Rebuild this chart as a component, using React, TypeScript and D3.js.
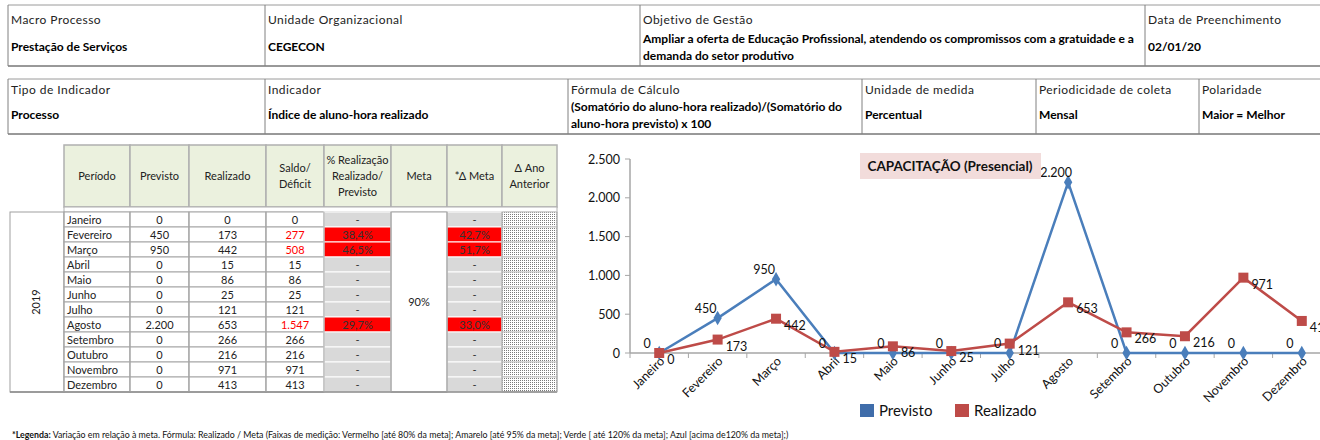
import React from 'react';
import * as d3 from 'd3';

// ---- data ----
const months = ['Janeiro', 'Fevereiro', 'Março', 'Abril', 'Maio', 'Junho', 'Julho', 'Agosto', 'Setembro', 'Outubro', 'Novembro', 'Dezembro'];
const previsto = [0, 450, 950, 0, 0, 0, 0, 2200, 0, 0, 0, 0];
const realizado = [0, 173, 442, 15, 86, 25, 121, 653, 266, 216, 971, 413];
const saldo = [0, 277, 508, 15, 86, 25, 121, 1547, 266, 216, 971, 413];
const pctRealizacao: (number | null)[] = [null, 38.4, 46.5, null, null, null, null, 29.7, null, null, null, null];
const deltaMeta: (number | null)[] = [null, 42.7, 51.7, null, null, null, null, 33.0, null, null, null, null];
const metaLabel = '90%';
const anoLabel = '2019';
const yTicks = [0, 500, 1000, 1500, 2000, 2500];

const infoRow1 = [
  { label: 'Macro Processo', value: ['Prestação de Serviços'] },
  { label: 'Unidade Organizacional', value: ['CEGECON'] },
  { label: 'Objetivo de Gestão', value: ['Ampliar a oferta de Educação Profissional, atendendo os compromissos com a gratuidade e a', 'demanda do setor produtivo'] },
  { label: 'Data de Preenchimento', value: ['02/01/20'] },
];
const infoRow2 = [
  { label: 'Tipo de Indicador', value: ['Processo'] },
  { label: 'Indicador', value: ['Índice de aluno-hora realizado'] },
  { label: 'Fórmula  de Cálculo', value: ['(Somatório do aluno-hora realizado)/(Somatório do', 'aluno-hora previsto) x 100'] },
  { label: 'Unidade de medida', value: ['Percentual'] },
  { label: 'Periodicidade de coleta', value: ['Mensal'] },
  { label: 'Polaridade', value: ['Maior = Melhor'] },
];
const tableHeaders = [['Período'], ['Previsto'], ['Realizado'], ['Saldo/', 'Déficit'], ['% Realização', 'Realizado/', 'Previsto'], ['Meta'], ['*Δ Meta'], ['Δ Ano', 'Anterior']];
const chartTitle = 'CAPACITAÇÃO (Presencial)';
const seriesNames = ['Previsto', 'Realizado'];
const footnoteBold = '*Legenda:';
const footnoteText = ' Variação em relação à meta. Fórmula: Realizado / Meta (Faixas de medição: Vermelho [até 80% da meta]; Amarelo [até 95% da meta]; Verde [ até 120% da meta]; Azul [acima de120% da meta];)';

// ---- layout ----
const FONT = "Lato, 'Liberation Sans', sans-serif";
const row1Edges = [8, 265, 640, 1145, 1330];
const row2Edges = [8, 265, 568, 862, 1036, 1199, 1330];
const colEdges = [64, 130, 189, 266, 324, 391, 447, 502, 557];
const BLUE = '#4A7EBB';
const RED = '#BE4B48';

const ptBR = d3.formatLocale({ decimal: ',', thousands: '.', grouping: [3], currency: ['R$', ''] });
const fmtInt = ptBR.format(',.0f');
const fmtPct = (v: number) => ptBR.format('.1f')(v) + '%';

function InfoTable({ rows, edges, y0, y1, labelY, valueY }: any) {
  return (
    <g fontFamily={FONT}>
      <line x1={edges[0]} x2={edges[edges.length - 1]} y1={y0} y2={y0} stroke="#9a9a9a" />
      <line x1={edges[0]} x2={edges[edges.length - 1]} y1={y1} y2={y1} stroke="#333" />
      {edges.slice(0, -1).map((e: number) => (
        <line key={e} x1={e} x2={e} y1={y0} y2={y1} stroke="#808080" />
      ))}
      {rows.map((c: any, i: number) => (
        <g key={c.label}>
          <text x={edges[i] + 3} y={labelY} fontSize={12} letterSpacing={0.45} fill="#222">{c.label}</text>
          {c.value.map((v: string, j: number) => (
            <text key={j} x={edges[i] + 3} fontWeight="bold" fontSize={12} fill="#000"
              y={c.value.length === 1 ? valueY : valueY - 8 + j * 17}>{v}</text>
          ))}
        </g>
      ))}
    </g>
  );
}

function DataTable() {
  const hy0 = 145, hy1 = 207, by0 = 212, rh = 15;
  const by1 = by0 + rh * months.length;
  const mid = (i: number) => (colEdges[i] + colEdges[i + 1]) / 2;
  return (
    <g fontFamily={FONT} fontSize={11}>
      <defs>
        <pattern id="dots" width="2" height="2" patternUnits="userSpaceOnUse">
          <rect width="2" height="2" fill="#fff" />
          <rect width="1" height="1" fill="#7a7a7a" />
        </pattern>
      </defs>
      {tableHeaders.map((lines, i) => (
        <g key={i}>
          <rect x={colEdges[i]} y={hy0} width={colEdges[i + 1] - colEdges[i]} height={hy1 - hy0}
            fill="#EBF1DE" stroke="#B0B0B0" strokeWidth={1.5} />
          {lines.map((t, j) => (
            <text key={j} x={mid(i)} textAnchor="middle" fill="#222"
              y={(hy0 + hy1) / 2 - (lines.length - 1) * 8 + j * 16 + 4}>{t}</text>
          ))}
        </g>
      ))}
      <rect x={colEdges[0]} y={hy1} width={colEdges[8] - colEdges[0]} height={by0 - hy1} fill="#fff" stroke="#B0B0B0" />
      <rect x={10} y={by0} width={colEdges[0] - 10} height={by1 - by0} fill="#fff" stroke="#A0A0A0" />
      <text transform={`translate(40,${(by0 + by1) / 2}) rotate(-90)`} textAnchor="middle" fill="#222">{anoLabel}</text>
      {months.map((m, i) => {
        const y = by0 + i * rh;
        const ty = y + 11.5;
        const pr = pctRealizacao[i];
        const dm = deltaMeta[i];
        return (
          <g key={m}>
            {[0, 1, 2, 3].map(c => (
              <rect key={c} x={colEdges[c]} y={y} width={colEdges[c + 1] - colEdges[c]} height={rh} fill="#fff" stroke="#A6A6A6" />
            ))}
            <rect x={colEdges[4]} y={y} width={colEdges[5] - colEdges[4]} height={rh} fill={pr != null ? '#FF0000' : '#D9D9D9'} stroke="#fff" />
            <rect x={colEdges[6]} y={y} width={colEdges[7] - colEdges[6]} height={rh} fill={dm != null ? '#FF0000' : '#D9D9D9'} stroke="#fff" />
            <rect x={colEdges[7]} y={y} width={colEdges[8] - colEdges[7]} height={rh} fill="url(#dots)" stroke="#C8C8C8" />
            <text x={colEdges[0] + 3} y={ty} fill="#222">{m}</text>
            <text x={mid(1)} y={ty} textAnchor="middle" fill="#222">{fmtInt(previsto[i])}</text>
            <text x={mid(2)} y={ty} textAnchor="middle" fill="#222">{fmtInt(realizado[i])}</text>
            <text x={mid(3)} y={ty} textAnchor="middle" fill={previsto[i] > realizado[i] ? '#FF0000' : '#222'}>{fmtInt(saldo[i])}</text>
            <text x={mid(4)} y={ty} textAnchor="middle" fill="#333">{pr != null ? fmtPct(pr) : '-'}</text>
            <text x={mid(6)} y={ty} textAnchor="middle" fill="#333">{dm != null ? fmtPct(dm) : '-'}</text>
          </g>
        );
      })}
      <rect x={colEdges[5]} y={by0} width={colEdges[6] - colEdges[5]} height={by1 - by0} fill="#fff" stroke="#A6A6A6" />
      <text x={mid(5)} y={(by0 + by1) / 2 + 4} textAnchor="middle" fill="#222">{metaLabel}</text>
      <line x1={10} x2={colEdges[8]} y1={by1} y2={by1} stroke="#8a8a8a" strokeWidth={1.5} />
      {colEdges.map(e => <line key={e} x1={e} x2={e} y1={by0} y2={by1} stroke="#A6A6A6" />)}
    </g>
  );
}

function LineChart() {
  const x = d3.scaleBand<string>().domain(months).range([630, 1331]);
  const y = d3.scaleLinear().domain([0, 2500]).range([353, 159]);
  const cx = (m: string) => (x(m) as number) + x.bandwidth() / 2;
  const line = d3.line<number>().x((_, i) => cx(months[i])).y(d => y(d));
  const diamond = d3.symbol().type(d3.symbolDiamond).size(60)();
  return (
    <g fontFamily={FONT}>
      <line x1={630} x2={630} y1={y(2500)} y2={y(0)} stroke="#A6A6A6" strokeWidth={1.5} />
      {yTicks.map(t => (
        <g key={t}>
          <line x1={625} x2={630} y1={y(t)} y2={y(t)} stroke="#A6A6A6" />
          <text x={620} y={y(t) + 4.5} textAnchor="end" fontSize={12.5} fill="#111">{fmtInt(t)}</text>
        </g>
      ))}
      <line x1={630} x2={1331} y1={y(0)} y2={y(0)} stroke="#A6A6A6" strokeWidth={1.5} />
      {months.map(m => (
        <g key={m}>
          <line x1={x(m) as number} x2={x(m) as number} y1={y(0)} y2={y(0) + 5} stroke="#A6A6A6" />
          <text transform={`translate(${cx(m) + 6},${y(0) + 9}) rotate(-45)`} textAnchor="end" fontSize={12.5} fill="#111">{m}</text>
        </g>
      ))}
      <path d={line(previsto) || ''} fill="none" stroke={BLUE} strokeWidth={2.5} />
      <path d={line(realizado) || ''} fill="none" stroke={RED} strokeWidth={2.5} />
      {previsto.map((v, i) => (
        <path key={i} d={diamond || ''} transform={`translate(${cx(months[i])},${y(v)})`} fill={BLUE} />
      ))}
      {realizado.map((v, i) => (
        <rect key={i} x={cx(months[i]) - 5} y={y(v) - 5} width={10} height={10} fill={RED} />
      ))}
      {previsto.map((v, i) => (
        <text key={i} x={cx(months[i]) - 12} y={y(v) - 5} textAnchor="middle" fontSize={12.5} fill="#111">{fmtInt(v)}</text>
      ))}
      {realizado.map((v, i) => (
        <text key={i} x={cx(months[i]) + 8} y={y(v) + 11} textAnchor="start" fontSize={12.5} fill="#111">{fmtInt(v)}</text>
      ))}
      <rect x={860} y={153} width={181} height={26} fill="#F2DCDB" />
      <text x={950} y={171} textAnchor="middle" fontWeight="bold" fontSize={13.5} fill="#111">{chartTitle}</text>
      {seriesNames.map((s, i) => (
        <g key={s} transform={`translate(${860 + i * 95},404)`}>
          <rect width={14} height={13} fill={i === 0 ? '#3F6DAA' : RED} />
          <text x={19} y={12} fontSize={15} fill="#111">{s}</text>
        </g>
      ))}
    </g>
  );
}

export default function App() {
  return (
    <svg width={1320} height={440} style={{ position: 'absolute', left: 0, top: 0, background: '#fff' }}>
      <rect width={1320} height={440} fill="#fff" />
      <InfoTable rows={infoRow1} edges={row1Edges} y0={5} y1={66} labelY={24} valueY={51} />
      <InfoTable rows={infoRow2} edges={row2Edges} y0={79} y1={134} labelY={94} valueY={119} />
      <DataTable />
      <LineChart />
      <text x={12} y={438} fontFamily={FONT} fontSize={8.8} fill="#111">
        <tspan fontWeight="bold">{footnoteBold}</tspan>{footnoteText}
      </text>
    </svg>
  );
}
